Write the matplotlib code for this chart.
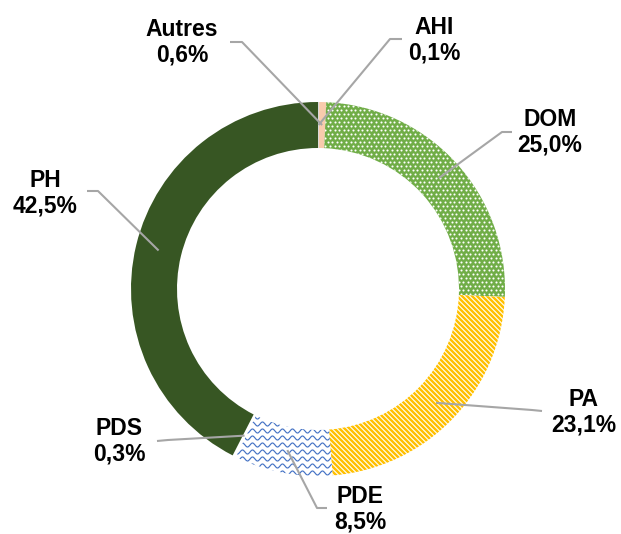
"""
Donut chart: répartition par catégorie (AHI, Autres, DOM, PA, PDE, PDS, PH).
"""
import matplotlib
matplotlib.use('Agg')
import matplotlib.pyplot as plt
from matplotlib.collections import LineCollection
import numpy as np

W, H = 621, 534

# ── data ──
labels = ['AHI', 'Autres', 'DOM', 'PA', 'PDE', 'PDS', 'PH']
values = [0.1, 0.6, 25.0, 23.1, 8.5, 0.3, 42.5]
colors = ['#D9D9D9', '#F8CBAD', '#70AD47', '#FFFFFF', '#FFFFFF', '#FFFFFF', '#375623']

# label layout (pixel coords, y from top): text centre, line start, elbow
layout = {
    'AHI':    ((434, 40),  (402, 39),  (390, 39)),
    'Autres': ((182, 42),  (230, 42),  (242, 42)),
    'DOM':    ((550, 132), (512, 132), (502, 132)),
    'PA':     ((584, 412), (542, 411), (532, 410)),
    'PDE':    ((360, 509), (327, 508), (317, 508)),
    'PDS':    ((119, 441), (157, 441), (168, 440)),
    'PH':     ((45, 193),  (87, 191),  (98, 191)),
}

cx, cy = 318, H - 289
R, ring_w = 187, 46

plt.rcParams['font.family'] = ['Liberation Sans', 'DejaVu Sans']

fig = plt.figure(figsize=(W / 100, H / 100), dpi=100)
ax = fig.add_axes([0, 0, 1, 1])
wedges, _ = ax.pie(values, colors=colors, startangle=90, counterclock=False,
                   radius=R, center=(cx, cy),
                   wedgeprops=dict(width=ring_w, linewidth=0))
ax.set_xlim(0, W); ax.set_ylim(0, H)
ax.set_aspect('equal'); ax.axis('off')

w = dict(zip(labels, wedges))

# DOM: white dots on green
gx, gy = np.meshgrid(np.arange(300, 520, 4.6), np.arange(200, 450, 4.0))
gx[1::2] += 2.3
dots = ax.scatter(gx.ravel(), gy.ravel(), s=2.3, c='white', linewidths=0, zorder=3)
dots.set_clip_path(w['DOM'])

# PA: yellow diagonal stripes on white
segs = [[(c, H), (c + H, 0)] for c in np.arange(-H, W + H, 5.0)]
stripes = LineCollection(segs, colors='#FFC000', linewidths=1.75, zorder=3)
ax.add_collection(stripes)
stripes.set_clip_path(w['PA'])

# PDE: blue waves on white
xs = np.arange(200, 360, 0.5)
for y0 in np.arange(40, 130, 7.0):
    ln, = ax.plot(xs, y0 + 2 * np.sin(2 * np.pi * xs / 10), color='#4472C4', lw=0.85, zorder=3)
    ln.set_clip_path(w['PDE'])

# labels and leader lines
r_anchor = R - ring_w / 2
for lab, val, wd in zip(labels, values, wedges):
    (tx, ty), (sx, sy), (ex, ey) = layout[lab]
    ang = np.deg2rad((wd.theta1 + wd.theta2) / 2)
    axp, ayp = cx + r_anchor * np.cos(ang), cy + r_anchor * np.sin(ang)
    ax.plot([sx, ex, axp], [H - sy, H - ey, ayp], color='#A6A6A6', lw=1.5,
            solid_capstyle='butt', zorder=4)
    txt = f'{lab}\n{val:.1f}%'.replace('.', ',')
    ax.text(tx, H - ty, txt, ha='center', va='center', fontsize=16.5,
            weight='bold', color='#000000', linespacing=1.15, zorder=5)

fig.savefig('out.png', dpi=100)
